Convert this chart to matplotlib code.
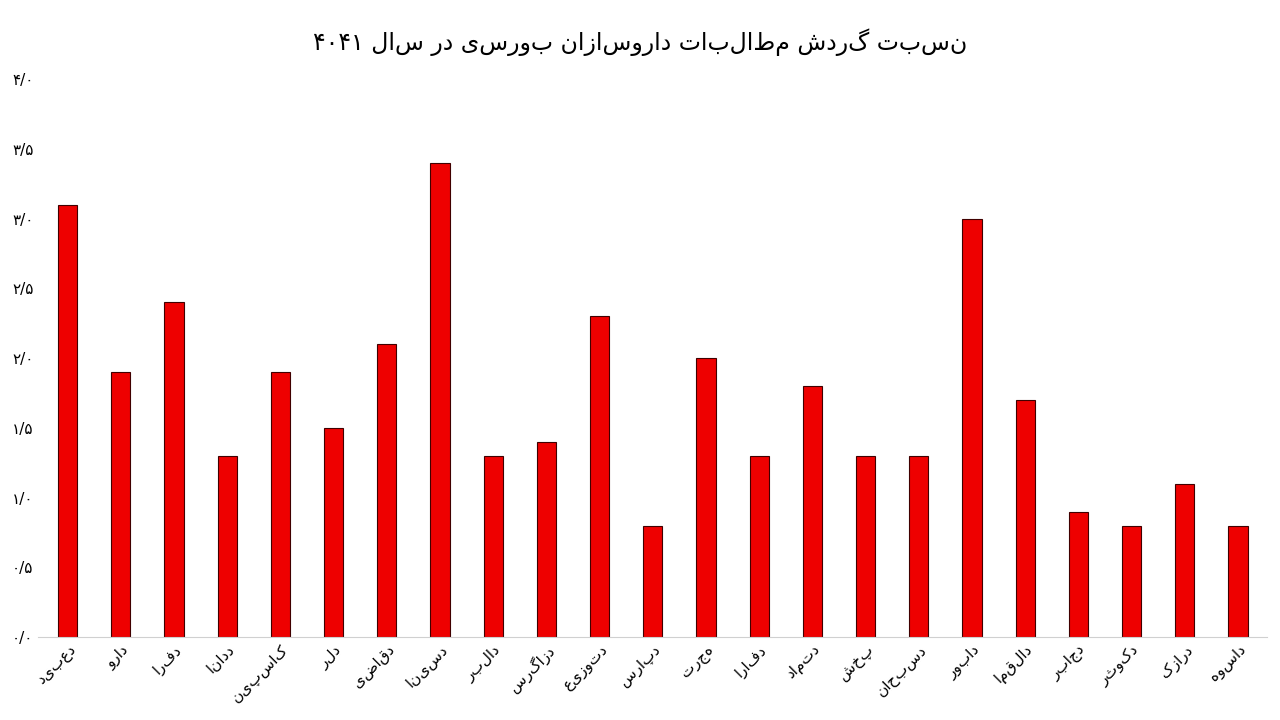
import matplotlib
matplotlib.use("Agg")
import matplotlib.pyplot as plt
import numpy as np

plt.rcParams['font.family'] = ['DejaVu Sans']

title = "نسبت گردش مطالبات داروسازان بورسی در سال ۱۴۰۴"
symbols = ["دعبید", "دارو", "دفرا", "ددانا", "کاسپین", "دلر", "دقاضی", "دسینا",
           "دالبر", "دزاگرس", "دتوزیع", "دپارس", "هجرت", "دفارا", "دتماد", "پخش",
           "دسبحان", "دابور", "دالقما", "دجابر", "دکوثر", "درازک", "داسوه"]
values = [3.1, 1.9, 2.4, 1.3, 1.9, 1.5, 2.1, 3.4, 1.3, 1.4, 2.3, 0.8, 2.0, 1.3,
          1.8, 1.3, 1.3, 3.0, 1.7, 0.9, 0.8, 1.1, 0.8]
yticks = [0, 0.5, 1.0, 1.5, 2.0, 2.5, 3.0, 3.5, 4.0]
ytick_labels = ["۰/۰", "۰/۵", "۱/۰", "۱/۵", "۲/۰", "۲/۵", "۳/۰", "۳/۵", "۴/۰"]


def rtl(s):
    # matplotlib has no bidi support: reverse so the text reads right to left
    return s[::-1]


fig, ax = plt.subplots(figsize=(12.8, 7.2), dpi=100)
fig.subplots_adjust(left=0.03, right=0.99, top=0.89, bottom=0.115)

x = np.arange(len(symbols))
ax.bar(x, values, width=0.36, color="#ee0000", edgecolor="#400000", linewidth=0.8)

ax.set_xlim(-0.55, len(symbols) - 0.45)
ax.set_ylim(0, 4.0)
ax.set_yticks(yticks)
ax.set_yticklabels(ytick_labels, fontsize=11)
ax.set_xticks(x)
ax.set_xticklabels([rtl(s) for s in symbols], rotation=45, ha="right",
                   rotation_mode="anchor", fontsize=11)
ax.tick_params(length=0)
for side in ["top", "right", "left"]:
    ax.spines[side].set_visible(False)
ax.spines["bottom"].set_color("#d0d0d0")
fig.suptitle(rtl(title), fontsize=17, y=0.96)

fig.savefig("out.png")
